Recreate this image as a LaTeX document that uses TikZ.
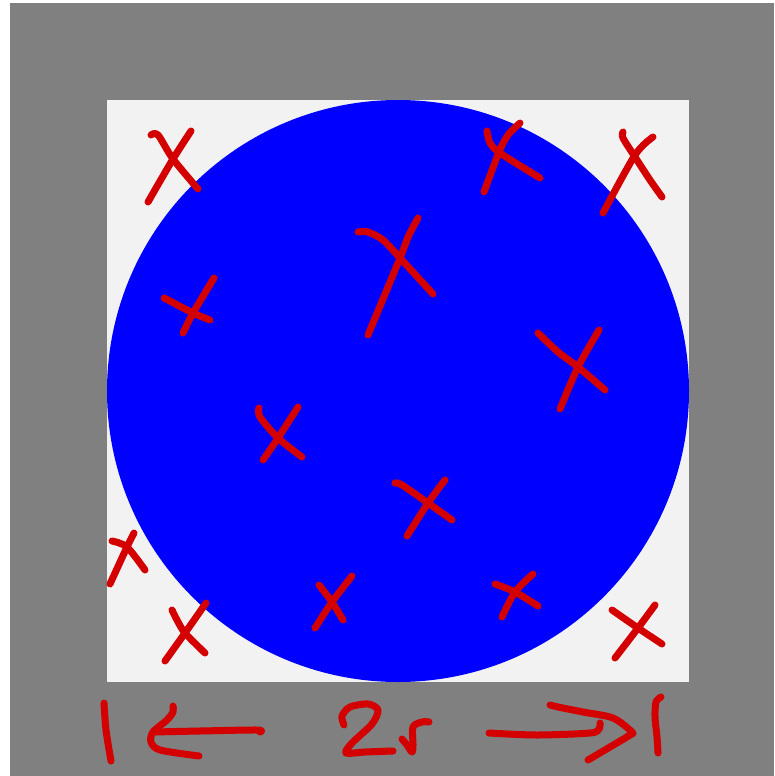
\documentclass[tikz,border=0pt]{standalone}
\definecolor{bggray}{HTML}{808080}
\definecolor{sqfill}{HTML}{F2F2F2}
\definecolor{inkred}{HTML}{D40000}
\definecolor{pureblue}{HTML}{0000FF}
\tikzset{ink/.style={draw=inkred,line width=7pt,line cap=round,line join=round}}
\begin{document}
\begin{tikzpicture}[x=1pt,y=-1pt]
\useasboundingbox (0,0) rectangle (774,776);
\fill[white] (0,0) rectangle (774,776);
\fill[bggray] (10,3) rectangle (774,776);
\fill[sqfill] (107,100) rectangle (689,682);
\fill[pureblue] (398,391) circle[radius=291];
% crosses
\draw[ink] plot[smooth,tension=0.5] coordinates {(151,135) (158,135) (173,159) (198,189)};
\draw[ink] plot[smooth,tension=0.5] coordinates {(191,131) (173,159) (148,202)};
\draw[ink] plot[smooth,tension=0.5] coordinates {(487,131) (490,143) (500,153) (540,178)};
\draw[ink] plot[smooth,tension=0.5] coordinates {(520,123) (508,135) (499,152) (484,192)};
\draw[ink] plot[smooth,tension=0.5] coordinates {(623,132) (623,138) (635,157) (650,180) (662,197)};
\draw[ink] plot[smooth,tension=0.5] coordinates {(653,137) (635,155) (603,213)};
\draw[ink] plot[smooth,tension=0.5] coordinates {(358,232) (368,232) (383,240) (400,258) (433,294)};
\draw[ink] plot[smooth,tension=0.5] coordinates {(418,218) (408,237) (400,258) (368,335)};
\draw[ink] plot[smooth,tension=0.5] coordinates {(164,298) (168,300) (193,313) (210,320)};
\draw[ink] plot[smooth,tension=0.5] coordinates {(214,278) (193,313) (183,333)};
\draw[ink] plot[smooth,tension=0.5] coordinates {(538,333) (558,352) (578,367) (605,390)};
\draw[ink] plot[smooth,tension=0.5] coordinates {(599,330) (578,367) (560,409)};
\draw[ink] plot[smooth,tension=0.5] coordinates {(259,408) (260,417) (278,438) (302,457)};
\draw[ink] plot[smooth,tension=0.5] coordinates {(298,407) (278,438) (263,460)};
\draw[ink] plot[smooth,tension=0.5] coordinates {(395,483) (402,485) (428,503) (452,520)};
\draw[ink] plot[smooth,tension=0.5] coordinates {(445,480) (428,503) (407,536)};
\draw[ink] plot[smooth,tension=0.5] coordinates {(112,541) (127,547) (145,570)};
\draw[ink] plot[smooth,tension=0.5] coordinates {(134,533) (127,547) (110,584)};
\draw[ink] plot[smooth,tension=0.5] coordinates {(172,610) (177,620) (185,633) (205,653)};
\draw[ink] plot[smooth,tension=0.5] coordinates {(206,603) (185,633) (165,661)};
\draw[ink] plot[smooth,tension=0.5] coordinates {(319,585) (332,602) (343,620)};
\draw[ink] plot[smooth,tension=0.5] coordinates {(352,576) (332,602) (315,628)};
\draw[ink] plot[smooth,tension=0.5] coordinates {(495,584) (515,592) (538,606)};
\draw[ink] plot[smooth,tension=0.5] coordinates {(533,574) (515,592) (502,617)};
\draw[ink] plot[smooth,tension=0.5] coordinates {(612,610) (638,628) (662,644)};
\draw[ink] plot[smooth,tension=0.5] coordinates {(655,605) (638,628) (615,658)};
% bottom annotation
\draw[ink] plot[smooth,tension=0.5] coordinates {(104,703) (106,730) (111,761)};
\draw[ink] plot[smooth,tension=0.5] coordinates {(173,706) (173,712) (167,720) (153,732) (151,742) (160,750) (199,756)};
\draw[ink] plot[smooth,tension=0.5] coordinates {(153,732) (200,731) (257,730) (260,732)};
\draw[ink] plot[smooth,tension=0.5] coordinates {(344,725) (342,716) (350,707) (368,704) (378,710) (372,724) (352,743) (346,753) (365,752) (393,751)};
\draw[ink] plot[smooth,tension=0.5] coordinates {(402,739) (407,745) (412,752) (413,745) (413,727) (422,722) (429,722)};
\draw[ink] plot[smooth,tension=0.5] coordinates {(489,733) (537,735) (590,733) (599,729) (600,723)};
\draw[ink] plot[smooth,tension=0.5] coordinates {(550,705) (558,707) (583,712) (613,718) (632,732) (630,735) (610,747) (588,760)};
\draw[ink] plot[smooth,tension=0.5] coordinates {(661,697) (656,702) (655,717) (657,737) (658,753)};
\end{tikzpicture}
\end{document}
